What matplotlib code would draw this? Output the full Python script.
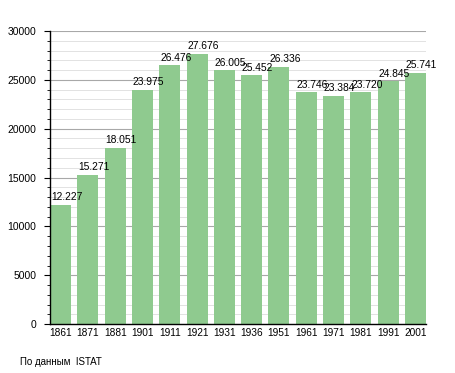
import matplotlib.pyplot as plt
from matplotlib.ticker import MultipleLocator

years = ["1861", "1871", "1881", "1901", "1911", "1921", "1931",
         "1936", "1951", "1961", "1971", "1981", "1991", "2001"]
population = [12227, 15271, 18051, 23975, 26476, 27676, 26005,
              25452, 26336, 23746, 23384, 23720, 24845, 25741]
labels = ["12.227", "15.271", "18.051", "23.975", "26.476", "27.676", "26.005",
          "25.452", "26.336", "23.746", "23.384", "23.720", "24.845", "25.741"]
source = "По данным  ISTAT"

plt.rcParams["font.family"] = ["Liberation Sans", "DejaVu Sans"]

fig = plt.figure(figsize=(4.55, 3.73), dpi=100)
ax = fig.add_axes([0.11, 0.131, 0.826, 0.786])

width = 0.77
x = range(len(years))
ax.bar(x, population, width=width, color="#8fca8f", zorder=2)
for i, (v, lab) in enumerate(zip(population, labels)):
	ax.text(i - width / 2 + 0.03, v + 250, lab, ha="left", va="bottom",
		fontsize=7.4, color="black", zorder=3)

ax.set_xlim(-width / 2, len(years) - 1 + width / 2)
ax.set_ylim(0, 30000)
ax.set_xticks(list(x))
ax.set_xticklabels(years, fontsize=7.3)
ax.tick_params(axis="x", length=0, pad=3)
ax.yaxis.set_major_locator(MultipleLocator(5000))
ax.yaxis.set_minor_locator(MultipleLocator(1000))
ax.tick_params(axis="y", which="major", length=4, labelsize=7.5, pad=6)
ax.tick_params(axis="y", which="minor", length=2)
ax.grid(axis="y", which="major", color="#a8a8a8", linewidth=0.8, zorder=0)
ax.grid(axis="y", which="minor", color="#e2e2e2", linewidth=0.7, zorder=0)
ax.set_axisbelow(True)
for side in ("top", "right"):
	ax.spines[side].set_visible(False)
ax.spines["left"].set_linewidth(1)
ax.spines["bottom"].set_linewidth(1)

fig.text(20 / 455, 1 - 362 / 373, source, fontsize=7, va="center", ha="left")

fig.savefig("out.png", dpi=100)
